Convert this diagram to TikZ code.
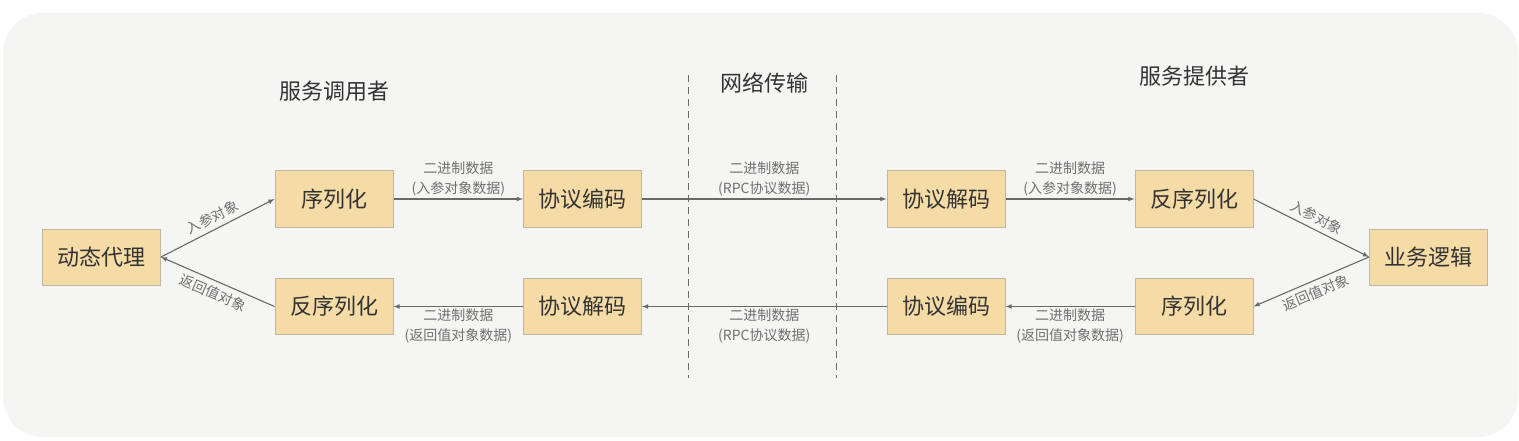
\documentclass[tikz,border=0pt]{standalone}
\usepackage{fontspec}
\setmainfont{Noto Sans CJK SC}
\definecolor{boxfill}{RGB}{245,219,166}
\definecolor{boxline}{RGB}{192,182,162}
\definecolor{bgpanel}{RGB}{245,245,244}
\definecolor{arrowgray}{RGB}{105,105,105}
\definecolor{textdark}{RGB}{51,51,51}
\definecolor{textgray}{RGB}{112,112,112}
\begin{document}
\begin{tikzpicture}[x=1pt, y=-1pt, every node/.style={align=center}, >=latex,
  box/.style={draw=boxline, fill=boxfill, line width=1pt, minimum width=118pt, minimum height=56pt, inner sep=0pt, font=\fontsize{22}{26}\selectfont, text=textdark},
  lbl/.style={font=\fontsize{14}{20}\selectfont, text=textgray, inner sep=2pt},
  title/.style={font=\fontsize{22}{26}\selectfont, text=textdark},
  flow/.style={draw=arrowgray, line width=1.1pt}]
\useasboundingbox (0,0) rectangle (1519,441);
\fill[white] (0,0) rectangle (1519,441);
\fill[bgpanel, rounded corners=40pt] (3,13) rectangle (1518,437);

% titles
\node[title] (caller) at (334,91) {服务调用者};
\node[title] (net) at (764,83) {网络传输};
\node[title] (provider) at (1194,76) {服务提供者};

% network boundary
\coordinate (lefttop) at (688,75);
\coordinate (leftbot) at (688,378);
\coordinate (righttop) at (836,75);
\coordinate (rightbot) at (836,378);
\draw[arrowgray, line width=1pt, dash pattern=on 7pt off 5pt] (lefttop) -- (leftbot);
\draw[arrowgray, line width=1pt, dash pattern=on 7pt off 5pt] (righttop) -- (rightbot);

% caller side
\node[box] (proxy) at (101.5,257) {动态代理};
\node[box] (callser) at (334,199) {序列化};
\node[box] (calldeser) at (334,306.5) {反序列化};
\node[box] (callenc) at (582.5,199) {协议编码};
\node[box] (calldec) at (582.5,306.5) {协议解码};

% provider side
\node[box] (provdec) at (946,199) {协议解码};
\node[box] (provenc) at (946,306.5) {协议编码};
\node[box] (provdeser) at (1194,199) {反序列化};
\node[box] (provser) at (1194,306.5) {序列化};
\node[box] (logic) at (1428.5,257) {业务逻辑};

% request
\draw[flow, ->] (proxy.east) -- node[lbl, above=3pt, sloped] {入参对象} (callser.west);
\draw[flow, ->] (callser) -- node[lbl, above] {二进制数据\\(入参对象数据)} (callenc);
\draw[flow, ->] (callenc) -- node[lbl, above] {二进制数据\\(RPC协议数据)} (provdec);
\draw[flow, ->] (provdec) -- node[lbl, above] {二进制数据\\(入参对象数据)} (provdeser);
\draw[flow, ->] (provdeser.east) -- node[lbl, above=3pt, sloped] {入参对象} (logic.west);

% response
\draw[flow, <-] (provser.east) -- node[lbl, below=3pt, sloped] {返回值对象} (logic.west);
\draw[flow, ->] (provser) -- node[lbl, below] {二进制数据\\(返回值对象数据)} (provenc);
\draw[flow, ->] (provenc) -- node[lbl, below] {二进制数据\\(RPC协议数据)} (calldec);
\draw[flow, ->] (calldec) -- node[lbl, below] {二进制数据\\(返回值对象数据)} (calldeser);
\draw[flow, <-] (proxy.east) -- node[lbl, below=3pt, sloped] {返回值对象} (calldeser.west);
\end{tikzpicture}
\end{document}
